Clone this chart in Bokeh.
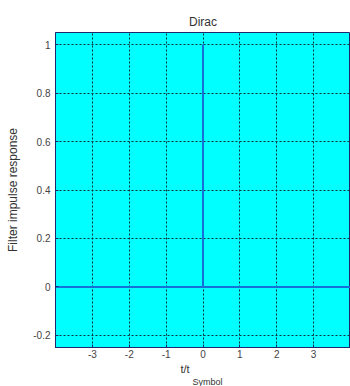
from bokeh.plotting import figure
from bokeh.models import Title, FixedTicker, PrintfTickFormatter, Range1d
from bokeh.embed import file_html
from bokeh.resources import INLINE

# data: Dirac impulse sampled
t = [-4, 0, 0, 0, 4]
h = [0, 0, 1, 0, 0]
x_ticks = [-3, -2, -1, 0, 1, 2, 3]
y_ticks = [-0.2, 0, 0.2, 0.4, 0.6, 0.8, 1]

font = "Liberation Sans"
W, H = 350, 386
p = figure(width=W, height=H, output_backend="svg", toolbar_location=None,
           x_range=Range1d(-4, 4), y_range=Range1d(-0.25, 1.05))
p.min_border_left = 55
p.min_border_right = 0
p.min_border_top = 32
p.min_border_bottom = 39
p.background_fill_color = "#00FFFF"
p.border_fill_color = "white"
p.outline_line_color = "#1a2a6a"
p.outline_line_width = 1

p.title.text = "Dirac"
p.title.align = "center"
p.title.text_font = font
p.title.text_font_size = "12px"
p.title.text_font_style = "normal"
p.title.text_color = "#333333"
p.title.standoff = 7

p.line(t, h, line_color="#1570d8", line_width=2)

for ax in (p.xaxis[0], p.yaxis[0]):
    ax.major_label_text_font = font
    ax.major_label_text_font_size = "10px"
    ax.major_label_text_color = "#444444"
    ax.axis_line_color = "#1a2a6a"
    ax.major_tick_line_color = "#1a2a6a"
    ax.major_tick_in = 3
    ax.major_tick_out = 0
    ax.minor_tick_line_color = None
    ax.formatter = PrintfTickFormatter(format="%g")
p.xaxis.major_label_standoff = 2
p.yaxis.major_label_standoff = 5
p.xaxis.ticker = FixedTicker(ticks=x_ticks)
p.yaxis.ticker = FixedTicker(ticks=y_ticks)

p.yaxis.axis_label = "Filter impulse response"
p.yaxis.axis_label_text_font = font
p.yaxis.axis_label_text_font_size = "12px"
p.yaxis.axis_label_text_font_style = "normal"
p.yaxis.axis_label_text_color = "#333333"
p.yaxis.axis_label_standoff = 10

p.grid.grid_line_color = "#10303a"
p.grid.grid_line_dash = "2 2"
p.grid.grid_line_width = 1
p.xgrid.ticker = FixedTicker(ticks=x_ticks)
p.ygrid.ticker = FixedTicker(ticks=y_ticks)

p.add_layout(Title(text="t/t", align="left", offset=125, standoff=0, text_font=font,
                   text_font_size="11px", text_font_style="normal", text_color="#333333"), "below")
p.add_layout(Title(text="Symbol", align="left", offset=137, standoff=0, text_font=font,
                   text_font_size="9px", text_font_style="normal", text_color="#333333"), "below")

open("out.html", "w").write(file_html(p, INLINE))
